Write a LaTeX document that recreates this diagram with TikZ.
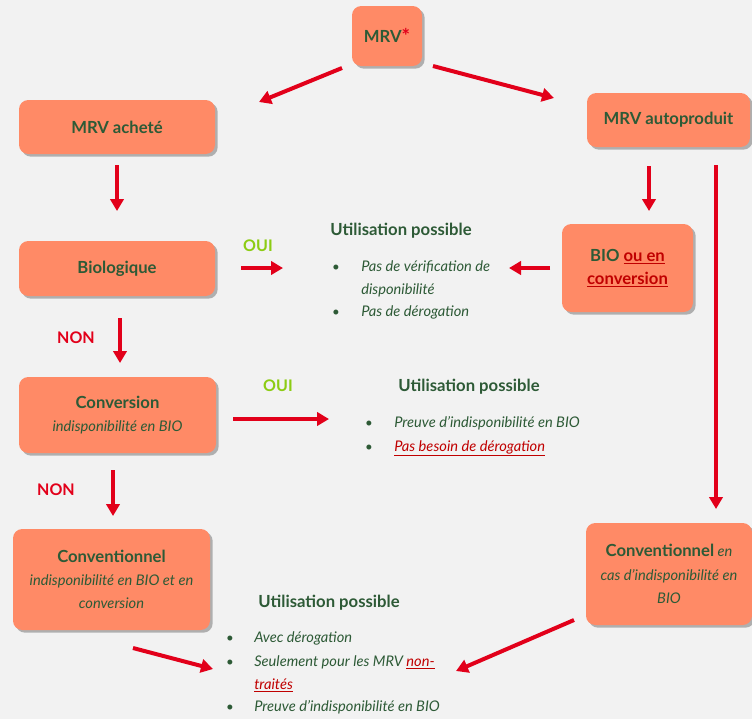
\documentclass[tikz,border=0pt]{standalone}
\usepackage{fontspec}
\setmainfont{Lato}
\usetikzlibrary{shadows,arrows.meta}
\definecolor{bg}{HTML}{F2F2F2}
\definecolor{boxfill}{HTML}{FF8A66}
\definecolor{dgreen}{HTML}{2D5A36}
\definecolor{ared}{HTML}{E2001A}
\definecolor{ulred}{HTML}{C00000}
\definecolor{lgreen}{HTML}{8CCC14}
\tikzset{
  box/.style={fill=boxfill, rounded corners=7pt,
    drop shadow={shadow xshift=2pt,shadow yshift=-2pt,opacity=0.4,fill=black!70},
    text=dgreen, font=\bfseries\fontsize{12.5}{17.5}\selectfont, align=center, inner sep=2pt},
  arr/.style={draw=ared, line width=3pt, -{Triangle[length=9pt,width=10pt]}},
  head/.style={text=dgreen, font=\bfseries\fontsize{12.5}{15}\selectfont, anchor=base, inner sep=0pt},
  item/.style={text=dgreen, font=\itshape\fontsize{11}{13}\selectfont, anchor=base west, inner sep=0pt},
  bul/.style={text=dgreen, font=\fontsize{10}{12}\selectfont, anchor=base, inner sep=0pt},
  lab/.style={font=\bfseries\fontsize{12}{14}\selectfont, inner sep=0pt}
}
\newcommand{\ulr}[1]{\textcolor{ulred}{\underline{#1}}}
\newcommand{\sub}[1]{{\normalfont\itshape\fontsize{11}{17.5}\selectfont #1}}
\begin{document}
\begin{tikzpicture}[x=0.75pt,y=-0.75pt]
\useasboundingbox[fill=bg] (0,0) rectangle (752,719);

% boxes
\node[box, minimum width=52.5pt, minimum height=45pt] (mrv) at (387,36) {MRV\textcolor{ared}{\raisebox{-1pt}{\fontsize{15}{15}\selectfont*}}};
\node[box, minimum width=147pt, minimum height=40.5pt] (achete) at (117,127) {MRV acheté};
\node[box, minimum width=122.25pt, minimum height=40.5pt] (auto) at (668.5,120) {MRV autoproduit};
\node[box, minimum width=147pt, minimum height=41.25pt] (bio) at (117,268.5) {Biologique};
\node[box, minimum width=98.25pt, minimum height=66pt] (bioc) at (627.5,268) {BIO \ulr{ou en}\\\ulr{conversion}};
\node[box, minimum width=147.75pt, minimum height=57pt] (conv) at (117.5,415) {Conversion\\\sub{indisponibilité en BIO}};
\node[box, minimum width=147.75pt, minimum height=75.75pt] (convl) at (111.5,579.5) {Conventionnel\\\sub{indisponibilité en BIO et en}\\\sub{conversion}};
\node[box, minimum width=124.5pt, minimum height=76.5pt] (convr) at (669,574) {Conventionnel\sub{ en}\\\sub{cas d’indisponibilité en}\\\sub{BIO}};

% text block 1
\node[head] (h1) at (401,235) {Utilisation possible};
\node[bul] (b1a) at (336,271) {•};
\node[item] (t1a) at (361,271) {Pas de vérification de};
\node[item] (t1b) at (361,294) {disponibilité};
\node[bul] (b1c) at (336,316) {•};
\node[item] (t1c) at (361,316) {Pas de dérogation};

% text block 2
\node[head] (h2) at (469,391) {Utilisation possible};
\node[bul] (b2a) at (369,427) {•};
\node[item] (t2a) at (394,427) {Preuve d’indisponibilité en BIO};
\node[bul] (b2b) at (369,451) {•};
\node[item] (t2b) at (394,451) {\ulr{Pas besoin de dérogation}};

% text block 3
\node[head] (h3) at (329,607) {Utilisation possible};
\node[bul] (b3a) at (230,642) {•};
\node[item] (t3a) at (254,642) {Avec dérogation};
\node[bul] (b3b) at (230,666) {•};
\node[item] (t3b) at (254,666) {Seulement pour les MRV \ulr{non-}};
\node[item] (t3c) at (254,689) {\ulr{traités}};
\node[bul] (b3d) at (230,711) {•};
\node[item] (t3d) at (254,711) {Preuve d’indisponibilité en BIO};

% labels
\node[lab, text=lgreen] (oui1) at (258,246) {OUI};
\node[lab, text=ared] (non1) at (76,338) {NON};
\node[lab, text=lgreen] (oui2) at (278,386) {OUI};
\node[lab, text=ared] (non2) at (56,490) {NON};

% arrow end coordinates
\coordinate (a1s) at (342,68);  \coordinate (a1e) at (259,102);
\coordinate (a2s) at (433,66);  \coordinate (a2e) at (554,98);
\coordinate (a3s) at (117,165); \coordinate (a3e) at (117,211);
\coordinate (a4s) at (649,166); \coordinate (a4e) at (649,211);
\coordinate (a5s) at (716,165); \coordinate (a5e) at (716,509);
\coordinate (a6s) at (241,268); \coordinate (a6e) at (283,268);
\coordinate (a7s) at (550,268); \coordinate (a7e) at (509,268);
\coordinate (a8s) at (120,318); \coordinate (a8e) at (120,363);
\coordinate (a9s) at (233,419); \coordinate (a9e) at (329,419);
\coordinate (a10s) at (113,470); \coordinate (a10e) at (113,516);
\coordinate (a11s) at (133,648); \coordinate (a11e) at (213,669);
\coordinate (a12s) at (574,620); \coordinate (a12e) at (456,671);

\foreach \i in {1,...,12} \draw[arr] (a\i s) -- (a\i e);
\end{tikzpicture}
\end{document}
